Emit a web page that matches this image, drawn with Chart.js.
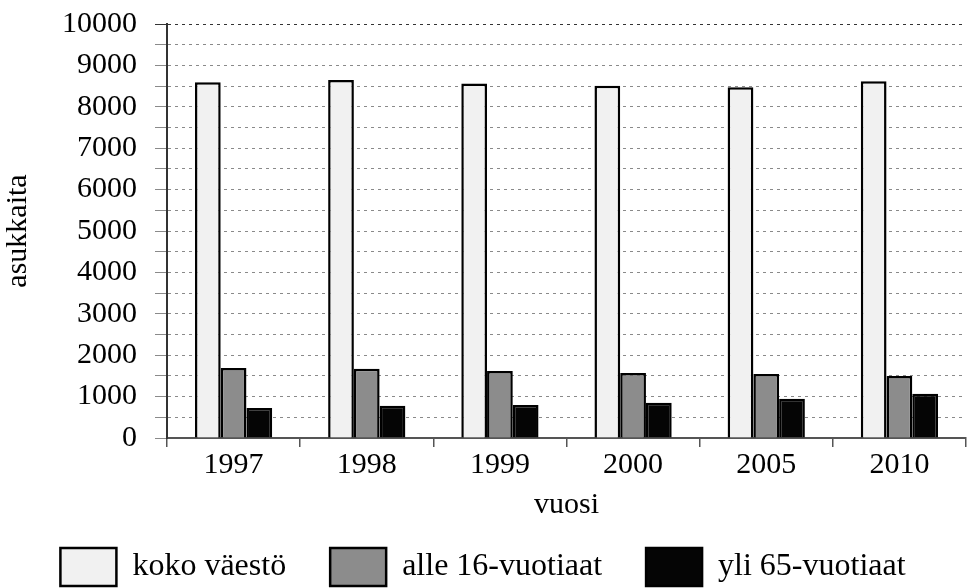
<!DOCTYPE html>
<html>
<head>
<meta charset="utf-8">
<script src="https://cdn.jsdelivr.net/npm/chart.js@4.4.0/dist/chart.umd.min.js"></script>
<style>
  html, body { margin: 0; padding: 0; background: #fff; }
  #wrap { width: 969px; height: 588px; }
</style>
</head>
<body>
<div id="wrap"><canvas id="chart" width="969" height="588"></canvas></div>
<script>
const years = ['1997', '1998', '1999', '2000', '2005', '2010'];
const koko = [8590, 8650, 8560, 8510, 8470, 8620];
const alle16 = [1690, 1670, 1620, 1570, 1545, 1500];
const yli65 = [725, 780, 800, 850, 950, 1070];

const serif = 'Liberation Serif';
const fontSize = 30;

const data = {
    labels: years,
    datasets: [
        { label: 'koko väestö', data: koko, backgroundColor: '#f1f1f1', borderColor: '#000', borderWidth: 2.5 },
        { label: 'alle 16-vuotiaat', data: alle16, backgroundColor: '#8c8c8c', borderColor: '#000', borderWidth: 2.5 },
        { label: 'yli 65-vuotiaat', data: yli65, backgroundColor: '#050505', borderColor: '#000', borderWidth: 2.5 }
    ]
};

new Chart(document.getElementById('chart'), {
    type: 'bar',
    data: data,
    options: {
        responsive: false,
        animation: false,
        layout: { padding: { top: 0, right: 3, left: 0, bottom: -8 } },
        datasets: { bar: { categoryPercentage: 0.58, barPercentage: 1.0 } },
        plugins: {
            legend: {
                position: 'bottom',
                labels: {
                    font: { family: serif, size: 32 },
                    color: '#000',
                    boxWidth: 56,
                    boxHeight: 38,
                    padding: 44,
                    useBorderRadius: false
                }
            },
            tooltip: { enabled: false }
        },
        scales: {
            x: {
                grid: { display: true, drawOnChartArea: false, drawTicks: true, tickLength: 9, offset: true, color: '#555', lineWidth: 1.5 },
                border: { color: '#555', width: 2 },
                ticks: { font: { family: serif, size: fontSize }, color: '#000', padding: 0 },
                // negative bottom padding lets the legend's wide item padding overlap this area
                title: { display: true, text: 'vuosi', font: { family: serif, size: fontSize }, color: '#000', padding: { top: 4, bottom: -19 } }
            },
            y: {
                min: 0,
                max: 10000,
                ticks: {
                    stepSize: 500,
                    autoSkip: false,
                    font: { family: serif, size: fontSize, lineHeight: 0.4 },
                    color: '#000',
                    padding: 18,
                    callback: (v) => (v % 1000 === 0 ? String(v) : '')
                },
                grid: {
                    color: (ctx) => (ctx.tick && ctx.tick.value === 10000 ? '#333' : '#8a8a8a'),
                    tickLength: 12,
                    drawTicks: true
                },
                border: { color: '#333', width: 2, dash: [3, 4] },
                title: { display: true, text: 'asukkaita', font: { family: serif, size: fontSize }, color: '#000', padding: { top: 0, bottom: 8 } }
            }
        }
    }
});
</script>
</body>
</html>
